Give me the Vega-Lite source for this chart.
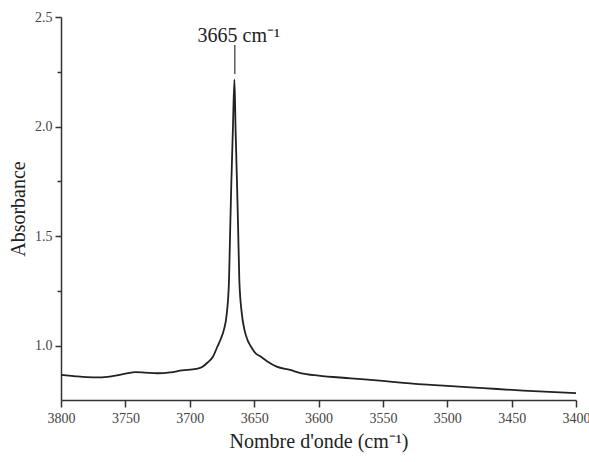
{
  "$schema": "https://vega.github.io/schema/vega-lite/v6.json",
  "width": 515,
  "height": 383,
  "autosize": {"type": "none"},
  "padding": {"left": 61, "top": 17, "right": 13, "bottom": 62},
  "background": "white",
  "config": {
    "view": {"stroke": null},
    "font": "Liberation Serif",
    "axis": {
      "grid": false,
      "domainColor": "#333",
      "domainWidth": 1.5,
      "tickColor": "#333",
      "tickWidth": 1.5,
      "labelFont": "Liberation Serif",
      "labelFontSize": 14,
      "labelColor": "#444",
      "titleFont": "Liberation Serif",
      "titleFontSize": 20,
      "titleFontWeight": "normal",
      "titleColor": "#222"
    }
  },
  "datasets": {
    "spectrum": [
      {"wn": 3800, "abs": 0.868},
      {"wn": 3790, "abs": 0.862},
      {"wn": 3780, "abs": 0.857},
      {"wn": 3770, "abs": 0.856},
      {"wn": 3760, "abs": 0.862},
      {"wn": 3750, "abs": 0.873},
      {"wn": 3742, "abs": 0.880},
      {"wn": 3735, "abs": 0.878},
      {"wn": 3725, "abs": 0.875},
      {"wn": 3715, "abs": 0.879},
      {"wn": 3706, "abs": 0.888},
      {"wn": 3695, "abs": 0.895},
      {"wn": 3690, "abs": 0.905},
      {"wn": 3686, "abs": 0.925},
      {"wn": 3682, "abs": 0.950},
      {"wn": 3678.5, "abs": 0.997},
      {"wn": 3676, "abs": 1.030},
      {"wn": 3673.5, "abs": 1.073},
      {"wn": 3671.2, "abs": 1.149},
      {"wn": 3669.5, "abs": 1.30},
      {"wn": 3668.6, "abs": 1.53},
      {"wn": 3667.7, "abs": 1.744},
      {"wn": 3666.5, "abs": 1.986},
      {"wn": 3665.3, "abs": 2.215},
      {"wn": 3664.4, "abs": 1.986},
      {"wn": 3663.3, "abs": 1.744},
      {"wn": 3662.4, "abs": 1.53},
      {"wn": 3661.5, "abs": 1.30},
      {"wn": 3659.6, "abs": 1.149},
      {"wn": 3657.5, "abs": 1.073},
      {"wn": 3655, "abs": 1.025},
      {"wn": 3652.5, "abs": 0.997},
      {"wn": 3649, "abs": 0.967},
      {"wn": 3645, "abs": 0.951},
      {"wn": 3640, "abs": 0.930},
      {"wn": 3632.5, "abs": 0.905},
      {"wn": 3622, "abs": 0.890},
      {"wn": 3614, "abs": 0.876},
      {"wn": 3600, "abs": 0.864},
      {"wn": 3575, "abs": 0.852},
      {"wn": 3550, "abs": 0.840},
      {"wn": 3534, "abs": 0.831},
      {"wn": 3500, "abs": 0.817},
      {"wn": 3472, "abs": 0.807},
      {"wn": 3441, "abs": 0.796},
      {"wn": 3400, "abs": 0.784}
    ],
    "annot": [
      {"wn": 3665, "y1": 2.24, "y2": 2.372, "ty": 2.384, "label": "3665 cm⁻¹"}
    ]
  },
  "layer": [
    {
      "data": {"name": "spectrum"},
      "mark": {"type": "line", "color": "#222", "strokeWidth": 1.8, "interpolate": "monotone", "clip": true},
      "encoding": {
        "x": {
          "field": "wn",
          "type": "quantitative",
          "scale": {"domain": [3400, 3800], "reverse": true, "nice": false, "zero": false},
          "axis": {
            "title": "Nombre d'onde (cm⁻¹)",
            "values": [3800, 3775, 3750, 3725, 3700, 3675, 3650, 3625, 3600, 3575, 3550, 3525, 3500, 3475, 3450, 3425, 3400],
            "format": "d",
            "labelExpr": "datum.value % 50 === 0 ? datum.label : ''",
            "tickSize": {"condition": {"test": "datum.value % 50 === 0", "value": 7}, "value": 4},
            "labelPadding": 4,
            "titlePadding": 6,
            "labelFlush": false,
            "labelOverlap": false
          }
        },
        "y": {
          "field": "abs",
          "type": "quantitative",
          "scale": {"domain": [0.753, 2.5], "nice": false, "zero": false},
          "axis": {
            "title": "Absorbance",
            "values": [1.0, 1.25, 1.5, 1.75, 2.0, 2.25, 2.5],
            "format": ".1f",
            "labelExpr": "(datum.value * 100) % 50 === 0 ? datum.label : ''",
            "tickSize": {"condition": {"test": "(datum.value * 100) % 50 === 0", "value": 6}, "value": 4},
            "labelPadding": 3,
            "titlePadding": 6,
            "labelFlush": false,
            "labelOverlap": false
          }
        }
      }
    },
    {
      "data": {"name": "annot"},
      "mark": {"type": "rule", "color": "#333", "strokeWidth": 1.2},
      "encoding": {
        "x": {"field": "wn", "type": "quantitative"},
        "y": {"field": "y1", "type": "quantitative"},
        "y2": {"field": "y2"}
      }
    },
    {
      "data": {"name": "annot"},
      "mark": {"type": "text", "font": "Liberation Serif", "fontSize": 20, "color": "#222", "align": "center", "baseline": "alphabetic", "dx": 4},
      "encoding": {
        "x": {"field": "wn", "type": "quantitative"},
        "y": {"field": "ty", "type": "quantitative"},
        "text": {"field": "label"}
      }
    }
  ]
}
